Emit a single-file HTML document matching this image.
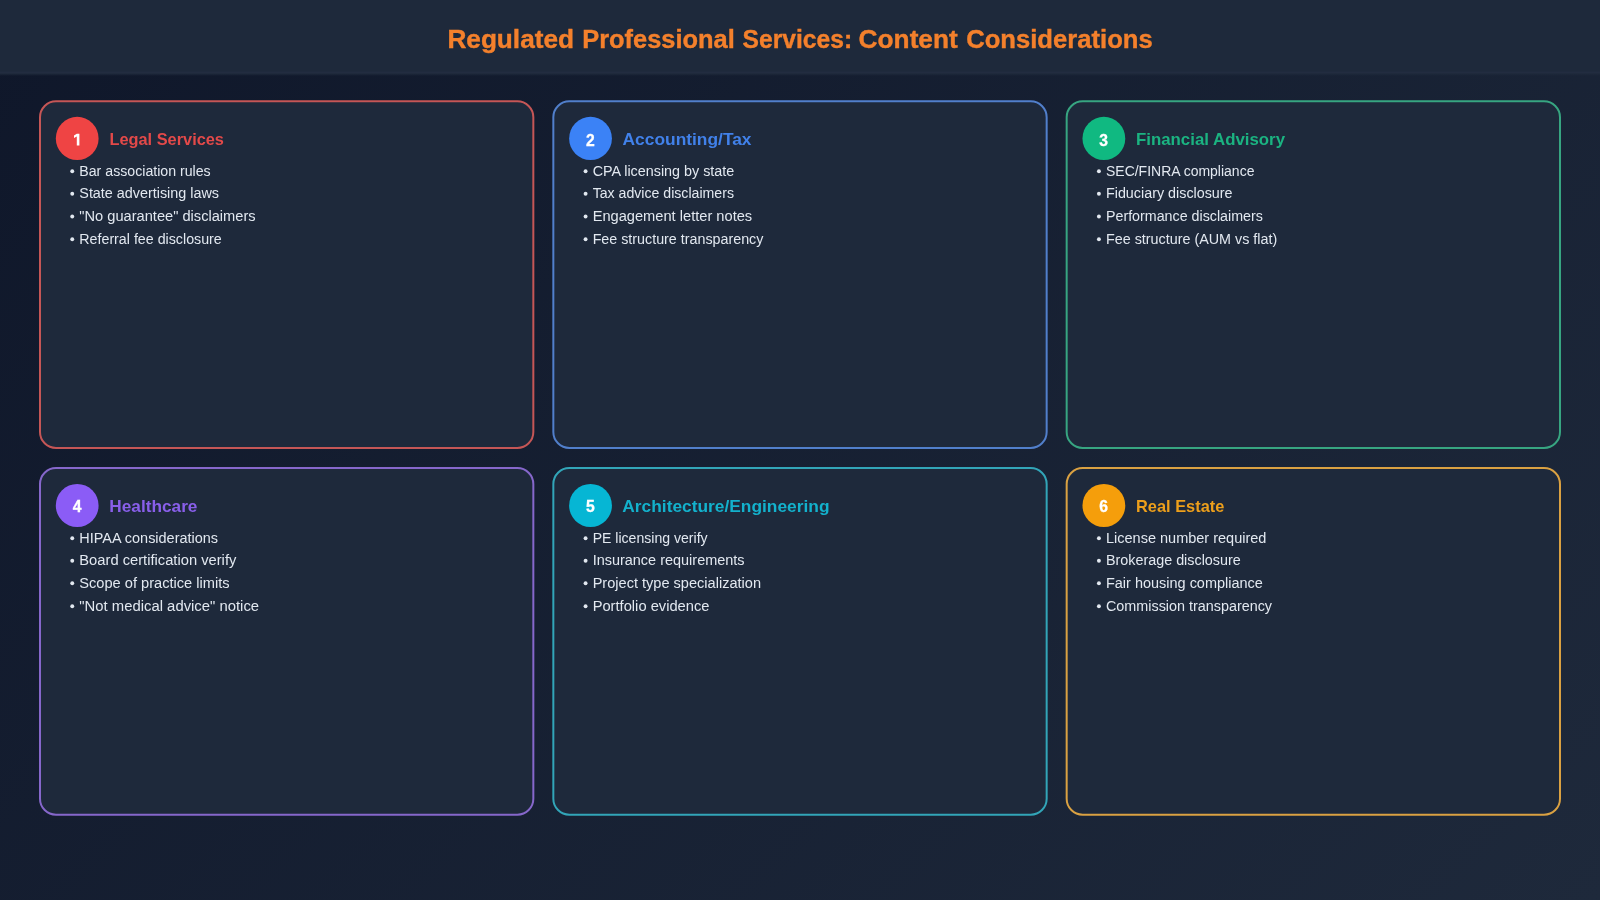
<!DOCTYPE html>
<html><head><meta charset="utf-8"><title>Regulated Professional Services</title>
<style>
*{margin:0;padding:0;box-sizing:border-box}
html,body{width:1600px;height:900px;overflow:hidden}
body{font-family:"Liberation Sans",sans-serif;background:linear-gradient(135deg,#0f172a 0%,#1e293b 100%);position:relative;color:#e2e8f0}
.hdr{position:absolute;left:0;top:0;width:1600px;height:74px;background:#1e293b}
.hl{position:absolute;left:0;top:71px;width:1600px;height:5px;background:linear-gradient(#1e293b 0%,#222c40 30%,#1e293b 55%,rgba(30,41,59,.5) 75%,rgba(30,41,59,0) 100%)}
svg{position:absolute;left:0;top:0}
.x{position:absolute;white-space:nowrap;transform-origin:0 0;line-height:1;display:block}
.m{font-weight:bold;color:#f4802c;-webkit-text-stroke:0.4px #f4802c;font-size:26.2px}
.t{font-weight:bold;font-size:17.0px}
.b{font-size:13.8px;color:#e2e8f0}
.d{position:absolute;font-weight:bold;color:#fff;-webkit-text-stroke:0.3px #fff;font-size:15.7px;line-height:1;width:44px;text-align:center}
.dot{position:absolute;width:3.8px;height:3.8px;border-radius:50%;background:#e2e8f0}
</style></head><body>
<div class="hdr"></div><div class="hl"></div>

<svg width="1600" height="900" viewBox="0 0 1600 900" style="will-change:transform">
<rect x="40.00" y="101.33" width="493.33" height="346.67" rx="16" ry="16" fill="#1e293b" stroke="#c55656" stroke-width="2"/>
<ellipse cx="77.20" cy="138.43" rx="21.4" ry="21.6" fill="#ef4444"/>
<rect x="553.33" y="101.33" width="493.33" height="346.67" rx="16" ry="16" fill="#1e293b" stroke="#517fcb" stroke-width="2"/>
<ellipse cx="590.53" cy="138.43" rx="21.4" ry="21.6" fill="#3b82f6"/>
<rect x="1066.67" y="101.33" width="493.33" height="346.67" rx="16" ry="16" fill="#1e293b" stroke="#37a581" stroke-width="2"/>
<ellipse cx="1103.87" cy="138.43" rx="21.4" ry="21.6" fill="#10b981"/>
<rect x="40.00" y="468.00" width="493.33" height="346.67" rx="16" ry="16" fill="#1e293b" stroke="#8667cb" stroke-width="2"/>
<ellipse cx="77.20" cy="505.50" rx="21.4" ry="21.6" fill="#8b5cf6"/>
<rect x="553.33" y="468.00" width="493.33" height="346.67" rx="16" ry="16" fill="#1e293b" stroke="#32a5b8" stroke-width="2"/>
<ellipse cx="590.53" cy="505.50" rx="21.4" ry="21.6" fill="#06b6d4"/>
<rect x="1066.67" y="468.00" width="493.33" height="346.67" rx="16" ry="16" fill="#1e293b" stroke="#daa142" stroke-width="2"/>
<ellipse cx="1103.87" cy="505.50" rx="21.4" ry="21.6" fill="#f59e0b"/>
<circle cx="72.25" cy="171.20" r="1.95" fill="#e2e8f0"/>
<circle cx="72.25" cy="193.70" r="1.95" fill="#e2e8f0"/>
<circle cx="72.25" cy="216.50" r="1.95" fill="#e2e8f0"/>
<circle cx="72.25" cy="239.20" r="1.95" fill="#e2e8f0"/>
<circle cx="585.58" cy="171.20" r="1.95" fill="#e2e8f0"/>
<circle cx="585.58" cy="193.70" r="1.95" fill="#e2e8f0"/>
<circle cx="585.58" cy="216.50" r="1.95" fill="#e2e8f0"/>
<circle cx="585.58" cy="239.20" r="1.95" fill="#e2e8f0"/>
<circle cx="1098.92" cy="171.20" r="1.95" fill="#e2e8f0"/>
<circle cx="1098.92" cy="193.70" r="1.95" fill="#e2e8f0"/>
<circle cx="1098.92" cy="216.50" r="1.95" fill="#e2e8f0"/>
<circle cx="1098.92" cy="239.20" r="1.95" fill="#e2e8f0"/>
<circle cx="72.25" cy="538.20" r="1.95" fill="#e2e8f0"/>
<circle cx="72.25" cy="560.70" r="1.95" fill="#e2e8f0"/>
<circle cx="72.25" cy="583.20" r="1.95" fill="#e2e8f0"/>
<circle cx="72.25" cy="606.20" r="1.95" fill="#e2e8f0"/>
<circle cx="585.58" cy="538.20" r="1.95" fill="#e2e8f0"/>
<circle cx="585.58" cy="560.70" r="1.95" fill="#e2e8f0"/>
<circle cx="585.58" cy="583.20" r="1.95" fill="#e2e8f0"/>
<circle cx="585.58" cy="606.20" r="1.95" fill="#e2e8f0"/>
<circle cx="1098.92" cy="538.20" r="1.95" fill="#e2e8f0"/>
<circle cx="1098.92" cy="560.70" r="1.95" fill="#e2e8f0"/>
<circle cx="1098.92" cy="583.20" r="1.95" fill="#e2e8f0"/>
<circle cx="1098.92" cy="606.20" r="1.95" fill="#e2e8f0"/>
<path d="M76.8 133.8H79.4V145.6H76.8V136.5L74 138V135.6Z" fill="#fff"/>
<text x="590.33" y="145.80" text-anchor="middle" font-family="Liberation Sans, sans-serif" font-weight="bold" font-size="15.7" fill="#fff" stroke="#fff" stroke-width="0.3">2</text>
<text x="1103.67" y="145.80" text-anchor="middle" font-family="Liberation Sans, sans-serif" font-weight="bold" font-size="15.7" fill="#fff" stroke="#fff" stroke-width="0.3">3</text>
<text x="77.00" y="512.00" text-anchor="middle" font-family="Liberation Sans, sans-serif" font-weight="bold" font-size="15.7" fill="#fff" stroke="#fff" stroke-width="0.3">4</text>
<text x="590.33" y="512.00" text-anchor="middle" font-family="Liberation Sans, sans-serif" font-weight="bold" font-size="15.7" fill="#fff" stroke="#fff" stroke-width="0.3">5</text>
<text x="1103.67" y="512.00" text-anchor="middle" font-family="Liberation Sans, sans-serif" font-weight="bold" font-size="15.7" fill="#fff" stroke="#fff" stroke-width="0.3">6</text>
</svg>
<div id="txt" style="position:absolute;left:0;top:0;width:1600px;height:900px;will-change:transform">
<div class="x m" id="m0" style="left:0;top:26.24px;transform:translateX(447.41px) scaleX(0.9997)">Regulated</div>
<div class="x m" id="m1" style="left:0;top:26.24px;transform:translateX(582.17px) scaleX(0.9708)">Professional</div>
<div class="x m" id="m2" style="left:0;top:26.24px;transform:translateX(742.53px) scaleX(0.9409)">Services:</div>
<div class="x m" id="m3" style="left:0;top:26.24px;transform:translateX(858.62px) scaleX(1.0021)">Content</div>
<div class="x m" id="m4" style="left:0;top:26.24px;transform:translateX(966.15px) scaleX(0.9788)">Considerations</div>
<div class="x t" id="t1" style="left:0;top:131.21px;color:#e34949;transform:translateX(109.39px) scaleX(0.9622)">Legal Services</div>
<div class="x b" id="b1_0" style="left:0;top:164.90px;transform:translateX(79.30px) scaleX(1.0259)">Bar association rules</div>
<div class="x b" id="b1_1" style="left:0;top:186.90px;transform:translateX(79.30px) scaleX(1.0406)">State advertising laws</div>
<div class="x b" id="b1_2" style="left:0;top:209.90px;transform:translateX(79.30px) scaleX(1.0608)">&quot;No guarantee&quot; disclaimers</div>
<div class="x b" id="b1_3" style="left:0;top:232.90px;transform:translateX(79.30px) scaleX(1.0320)">Referral fee disclosure</div>
<div class="x t" id="t2" style="left:0;top:131.21px;color:#4181ea;transform:translateX(622.57px) scaleX(1.0214)">Accounting/Tax</div>
<div class="x b" id="b2_0" style="left:0;top:164.90px;transform:translateX(592.63px) scaleX(1.0396)">CPA licensing by state</div>
<div class="x b" id="b2_1" style="left:0;top:186.90px;transform:translateX(592.63px) scaleX(1.0240)">Tax advice disclaimers</div>
<div class="x b" id="b2_2" style="left:0;top:209.90px;transform:translateX(592.63px) scaleX(1.0614)">Engagement letter notes</div>
<div class="x b" id="b2_3" style="left:0;top:232.90px;transform:translateX(592.63px) scaleX(1.0358)">Fee structure transparency</div>
<div class="x t" id="t3" style="left:0;top:131.21px;color:#1bb381;transform:translateX(1135.98px) scaleX(0.9901)">Financial Advisory</div>
<div class="x b" id="b3_0" style="left:0;top:164.90px;transform:translateX(1105.97px) scaleX(1.0136)">SEC/FINRA compliance</div>
<div class="x b" id="b3_1" style="left:0;top:186.90px;transform:translateX(1105.97px) scaleX(1.0384)">Fiduciary disclosure</div>
<div class="x b" id="b3_2" style="left:0;top:209.90px;transform:translateX(1105.97px) scaleX(1.0335)">Performance disclaimers</div>
<div class="x b" id="b3_3" style="left:0;top:232.90px;transform:translateX(1105.97px) scaleX(1.0392)">Fee structure (AUM vs flat)</div>
<div class="x t" id="t4" style="left:0;top:497.88px;color:#895fea;transform:translateX(109.35px) scaleX(1.0132)">Healthcare</div>
<div class="x b" id="b4_0" style="left:0;top:531.90px;transform:translateX(79.30px) scaleX(1.0478)">HIPAA considerations</div>
<div class="x b" id="b4_1" style="left:0;top:553.90px;transform:translateX(79.30px) scaleX(1.0666)">Board certification verify</div>
<div class="x b" id="b4_2" style="left:0;top:576.90px;transform:translateX(79.30px) scaleX(1.0592)">Scope of practice limits</div>
<div class="x b" id="b4_3" style="left:0;top:599.90px;transform:translateX(79.30px) scaleX(1.0766)">&quot;Not medical advice&quot; notice</div>
<div class="x t" id="t5" style="left:0;top:497.88px;color:#13b1cc;transform:translateX(622.32px) scaleX(1.0200)">Architecture/Engineering</div>
<div class="x b" id="b5_0" style="left:0;top:531.90px;transform:translateX(592.63px) scaleX(1.0200)">PE licensing verify</div>
<div class="x b" id="b5_1" style="left:0;top:553.90px;transform:translateX(592.63px) scaleX(1.0482)">Insurance requirements</div>
<div class="x b" id="b5_2" style="left:0;top:576.90px;transform:translateX(592.63px) scaleX(1.0555)">Project type specialization</div>
<div class="x b" id="b5_3" style="left:0;top:599.90px;transform:translateX(592.63px) scaleX(1.0654)">Portfolio evidence</div>
<div class="x t" id="t6" style="left:0;top:497.88px;color:#ed9f1b;transform:translateX(1136.03px) scaleX(0.9632)">Real Estate</div>
<div class="x b" id="b6_0" style="left:0;top:531.90px;transform:translateX(1105.97px) scaleX(1.0514)">License number required</div>
<div class="x b" id="b6_1" style="left:0;top:553.90px;transform:translateX(1105.97px) scaleX(1.0398)">Brokerage disclosure</div>
<div class="x b" id="b6_2" style="left:0;top:576.90px;transform:translateX(1105.97px) scaleX(1.0490)">Fair housing compliance</div>
<div class="x b" id="b6_3" style="left:0;top:599.90px;transform:translateX(1105.97px) scaleX(1.0411)">Commission transparency</div>
</div>
</body></html>
